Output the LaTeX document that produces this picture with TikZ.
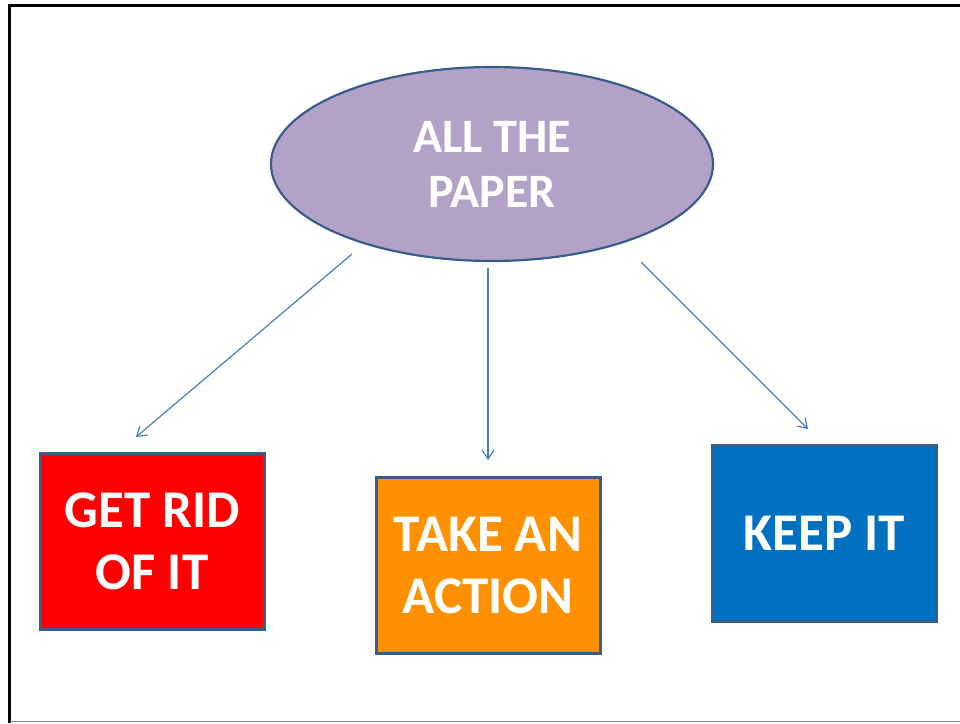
\documentclass[tikz,border=0pt]{standalone}
\usepackage{fontspec}
\setmainfont{Carlito}
\usetikzlibrary{arrows.meta,shapes.geometric}

\definecolor{edgeblue}{HTML}{385D8A}
\definecolor{arrowblue}{HTML}{4A7EBB}
\definecolor{lilac}{HTML}{B3A2C7}
\definecolor{boxred}{HTML}{FF0000}
\definecolor{boxorange}{HTML}{FF9100}
\definecolor{boxblue}{HTML}{0070C0}

\tikzset{
  topic/.style={ellipse, draw=edgeblue, line width=2.2pt, fill=lilac,
    minimum width=442pt, minimum height=194pt, inner sep=0pt,
    text=white, align=center,
    font=\fontsize{48}{55}\selectfont\bfseries},
  choice/.style={rectangle, draw=edgeblue, line width=3pt,
    minimum width=224pt, minimum height=176pt, inner sep=0pt,
    text=white, align=center,
    font=\fontsize{53}{62}\selectfont\bfseries},
  link/.style={draw=arrowblue, line width=1.2pt,
    -{Straight Barb[length=9pt,width=12pt,line width=1.2pt]}},
}

\begin{document}
\begin{tikzpicture}[x=1pt,y=-1pt]
  \useasboundingbox (0,0) rectangle (960,723);

  % page frame
  \draw[black, line width=3pt] (9.5,723) -- (9.5,5.5) -- (960,5.5);
  \draw[gray, line width=1.5pt] (9.5,721.5) -- (960,721.5);

  % central topic and the three choices
  \node[topic] (paper) at (492,164) {ALL THE\\PAPER};
  \node[choice, fill=boxred] (rid) at (152,541) {GET RID\\OF IT};
  \node[choice, fill=boxorange] (act) at (488,565) {TAKE AN\\ACTION};
  \node[choice, fill=boxblue] (keep) at (824.5,533) {KEEP IT};

  % arrow end points
  \coordinate (ridFrom) at (352,254);
  \coordinate (ridTo) at (136,437);
  \coordinate (actFrom) at (488,268);
  \coordinate (actTo) at (488,460);
  \coordinate (keepFrom) at (641,262);
  \coordinate (keepTo) at (808,429);

  \draw[link] (ridFrom) -- (ridTo);
  \draw[link] (actFrom) -- (actTo);
  \draw[link] (keepFrom) -- (keepTo);
\end{tikzpicture}
\end{document}
